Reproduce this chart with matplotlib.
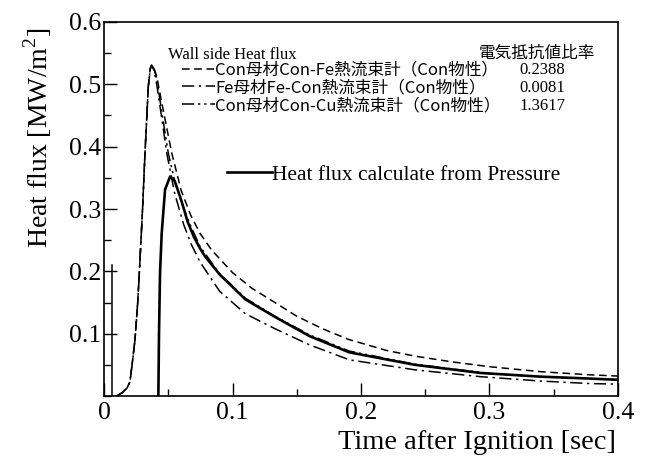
import matplotlib
matplotlib.use('Agg')
import matplotlib.pyplot as plt
from matplotlib.ticker import MultipleLocator

plt.rcParams['font.family'] = ['Liberation Serif', 'Noto Sans CJK JP']
plt.rcParams['mathtext.fontset'] = 'custom'
plt.rcParams['mathtext.rm'] = 'Liberation Serif'

# common rising part of the three wall-side curves
rise_t = [0.0099, 0.014, 0.018, 0.0202, 0.0223, 0.0241, 0.0262, 0.0278, 0.030, 0.0319, 0.0345, 0.036, 0.0371]
rise_q = [0.0, 0.005, 0.013, 0.023, 0.058, 0.090, 0.149, 0.21, 0.30, 0.39, 0.497, 0.525, 0.531]

# Con-Fe (dashed)
fe_t = [0.039, 0.041, 0.045, 0.0527, 0.06, 0.0675, 0.0747, 0.0838, 0.1, 0.115, 0.133, 0.15, 0.17, 0.19,
        0.22, 0.242, 0.27, 0.3, 0.34, 0.378, 0.4]
fe_q = [0.525, 0.513, 0.47, 0.39, 0.33, 0.29, 0.261, 0.234, 0.198, 0.173, 0.150, 0.128, 0.108, 0.091,
        0.073, 0.064, 0.055, 0.047, 0.039, 0.034, 0.032]

# Fe-Con (dash-dot)
fecon_t = [0.039, 0.041, 0.045, 0.0488, 0.055, 0.062, 0.068, 0.0747, 0.09, 0.11, 0.133, 0.16, 0.191, 0.242,
           0.293, 0.34, 0.378, 0.4]
fecon_q = [0.522, 0.5, 0.445, 0.39, 0.325, 0.275, 0.243, 0.215, 0.168, 0.132, 0.108, 0.082, 0.058, 0.042,
           0.031, 0.024, 0.020, 0.019]

# Con-Cu (dash-dot-dot)
cu_t = [0.039, 0.041, 0.045, 0.05, 0.055, 0.06, 0.067, 0.0747, 0.09, 0.11, 0.133, 0.16, 0.191, 0.242, 0.3,
        0.34, 0.4]
cu_q = [0.524, 0.51, 0.455, 0.39, 0.345, 0.312, 0.275, 0.24, 0.196, 0.157, 0.128, 0.098, 0.072, 0.051, 0.036,
        0.031, 0.026]

# heat flux calculated from pressure (solid)
pres_t = [0.0423, 0.0428, 0.0436, 0.0449, 0.0475, 0.0514, 0.055, 0.06, 0.065, 0.07, 0.0747, 0.0786, 0.09,
          0.11, 0.133, 0.16, 0.191, 0.242, 0.293, 0.34, 0.378, 0.4]
pres_q = [0.0, 0.1, 0.197, 0.261, 0.331, 0.352, 0.345, 0.315, 0.28, 0.255, 0.237, 0.224, 0.195,
          0.155, 0.127, 0.096, 0.07, 0.05, 0.037, 0.031, 0.028, 0.026]

spike_t = [0.006, 0.006]
spike_q = [0.0, 0.21]

labels = ['Con母材Con-Fe熱流束計（Con物性）', 'Fe母材Fe-Con熱流束計（Con物性）', 'Con母材Con-Cu熱流束計（Con物性）']
ratios = ['0.2388', '0.0081', '1.3617']

fig = plt.figure(figsize=(6.48, 4.66), dpi=100)
ax = fig.add_axes([0.1605, 0.1502, 0.7932, 0.8026])

l1, = ax.plot(rise_t + fe_t, rise_q + fe_q, color='black', lw=1.1, linestyle=(0, (5, 3)), label=labels[0])
l2, = ax.plot(rise_t + fecon_t, rise_q + fecon_q, color='black', lw=1.1, linestyle=(0, (8, 3, 1.5, 3)), label=labels[1])
l3, = ax.plot(rise_t + cu_t, rise_q + cu_q, color='black', lw=1.1,
              linestyle=(0, (8, 2.5, 1.5, 2.5, 1.5, 2.5)), label=labels[2])
l4, = ax.plot(pres_t, pres_q, color='black', lw=1.9, label='Heat flux calculate from Pressure')
ax.plot(spike_t, spike_q, color='black', lw=1.1)

ax.set_xlim(0, 0.4)
ax.set_ylim(0, 0.6)
ax.set_xticks([0, 0.1, 0.2, 0.3, 0.4])
ax.set_xticklabels(['0', '0.1', '0.2', '0.3', '0.4'])
ax.set_yticks([0.1, 0.2, 0.3, 0.4, 0.5, 0.6])
ax.set_yticklabels(['0.1', '0.2', '0.3', '0.4', '0.5', '0.6'])
ax.xaxis.set_minor_locator(MultipleLocator(0.05))
ax.yaxis.set_minor_locator(MultipleLocator(0.05))
ax.tick_params(which='major', direction='in', length=9.5, width=1.0, labelsize=18.5, pad=4)
ax.tick_params(which='minor', direction='in', length=5, width=1.0)
ax.tick_params(axis='y', which='major', pad=2)
for s in ax.spines.values():
    s.set_linewidth(1.2)

ax.set_xlabel('Time after Ignition [sec]', fontsize=20.5)
ax.xaxis.set_label_coords(0.726, -0.09)
ax.set_ylabel('Heat flux [MW/m$^{2}$]', fontsize=20)
ax.yaxis.set_label_coords(-0.097, 0.69)

cjk = {'family': ['Noto Sans CJK JP'], 'size': 12}
leg1 = ax.legend(handles=[l1, l2, l3], loc='center left', bbox_to_anchor=(0.0605, 0.4945),
                 bbox_transform=ax.transData, frameon=False, borderpad=0, borderaxespad=0,
                 handlelength=2.0, handletextpad=0.0, labelspacing=0.05, prop=cjk)
ax.add_artist(leg1)
ax.legend(handles=[l4], loc='center left', bbox_to_anchor=(0.0955, 0.3547),
          bbox_transform=ax.transData, frameon=False, borderpad=0, borderaxespad=0,
          handlelength=2.1, handletextpad=0.0, prop={'family': 'Liberation Serif', 'size': 15.5})

ax.text(0.050, 0.547, 'Wall side Heat flux', fontsize=12, ha='left', va='center')
ax.text(0.382, 0.55, '電気抵抗値比率', family=['Noto Sans CJK JP'], fontsize=12, ha='right', va='center')
for r, yy in zip(ratios, [0.523, 0.4945, 0.465]):
    ax.text(0.341, yy, r, fontsize=12, ha='center', va='center')

fig.savefig('out.png', dpi=100)
